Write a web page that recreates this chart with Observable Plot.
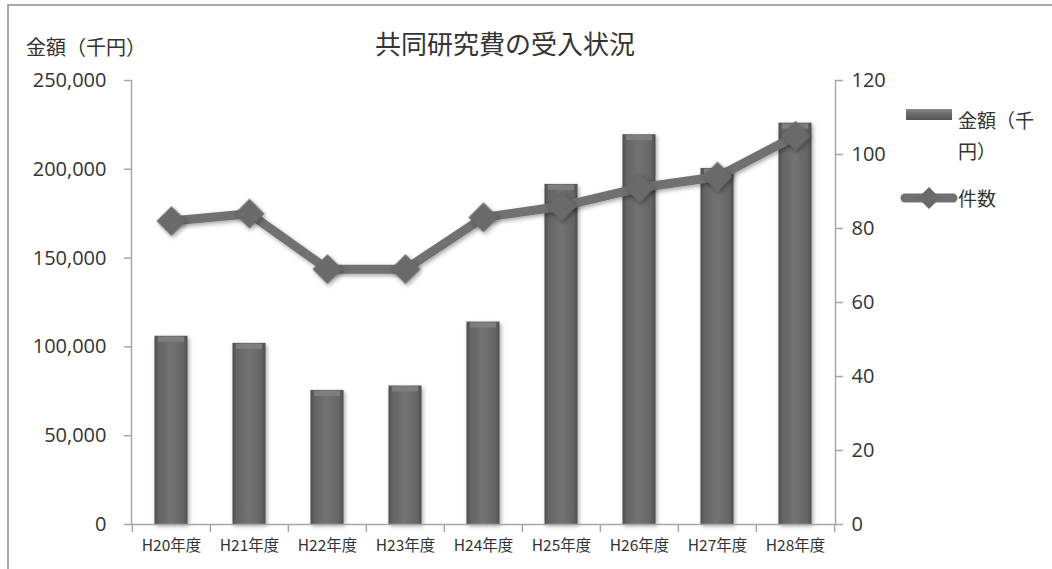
<!DOCTYPE html>
<html><head><meta charset="utf-8">
<script src="https://cdn.jsdelivr.net/npm/d3@7"></script>
<script src="https://cdn.jsdelivr.net/npm/@observablehq/plot@0.6"></script>
<style>
html,body{margin:0;padding:0;background:#fff;}
#wrap{position:relative;width:1052px;height:569px;overflow:hidden;font-family:"Noto Sans CJK JP","Noto Sans",sans-serif;color:#333;}
#border{position:absolute;left:7px;top:4px;width:1200px;height:700px;border-left:2px solid #a8a8a8;border-top:2px solid #a8a8a8;}
#chart{position:absolute;left:0;top:0;}
.t{position:absolute;white-space:nowrap;line-height:1;}
#title{left:0;width:1010px;text-align:center;top:30px;font-size:26px;}
#ylab{left:26px;top:37px;font-size:20px;}
#leg1{left:958px;top:104px;font-size:19px;white-space:normal;width:80px;line-height:31px;}
#leg2{left:958px;top:188px;font-size:19px;}
#sw1{position:absolute;left:906px;top:109px;}
#sw2{position:absolute;left:900px;top:186px;}
</style>
</head><body>
<div id="wrap">
  <div id="border"></div>
  <div id="chart"></div>
  <div class="t" id="title">共同研究費の受入状況</div>
  <div class="t" id="ylab">金額（千円）</div>
  <svg id="sw1" width="46" height="12"><defs><linearGradient id="lg1" x1="0" y1="0" x2="0" y2="1"><stop offset="0" stop-color="#8a8a8a"/><stop offset="0.4" stop-color="#6c6c6c"/><stop offset="1" stop-color="#555"/></linearGradient></defs><rect x="0" y="0" width="46" height="11" fill="url(#lg1)"/></svg>
  <div class="t" id="leg1">金額（千円）</div>
  <svg id="sw2" width="58" height="26"><line x1="5" y1="12" x2="53" y2="12" stroke="#707070" stroke-width="9" stroke-linecap="round"/><path d="M29 1 L40 12 L29 23 L18 12 Z" fill="#6a6a6a"/></svg>
  <div class="t" id="leg2">件数</div>
</div>
<script>
const categories = ["H20年度","H21年度","H22年度","H23年度","H24年度","H25年度","H26年度","H27年度","H28年度"];
const amounts = [106000, 102000, 75500, 78000, 114000, 191500, 219500, 200500, 226000];
const counts = [82, 84, 69, 69, 83, 86, 91, 94, 105];
const leftTicks = [0, 50000, 100000, 150000, 200000, 250000];
const rightTicks = [0, 20, 40, 60, 80, 100, 120];
const AMOUNT_MAX = 250000, COUNT_MAX = 120;
const k = AMOUNT_MAX / COUNT_MAX;

const data = categories.map((c, i) => ({c, v: amounts[i], n: counts[i]}));

const W = 1052, H = 569, mL = 131, mR = 217, mT = 80, mB = 45;
const bw = (W - mL - mR) / categories.length;
const axisColor = "#a6a6a6";

const plot = Plot.plot({
  width: W, height: H,
  marginLeft: mL, marginRight: mR, marginTop: mT, marginBottom: mB,
  x: {type: "band", domain: categories, padding: 0, axis: null, label: null},
  y: {domain: [0, AMOUNT_MAX], axis: null, label: null},
  style: {fontFamily: "'Open Sans', sans-serif", color: "#333", background: "transparent", overflow: "visible"},
  marks: [
    Plot.barY(data, {x: "c", y: "v", fill: "#6a6a6a", insetLeft: 22.5, insetRight: 22.5}),
    Plot.tickY(data, {x: "c", y: "v", stroke: "#7e7e7e", strokeWidth: 5, dy: 3, insetLeft: 26, insetRight: 26}),
    Plot.ruleY([0], {stroke: axisColor, strokeWidth: 1.5}),
    Plot.frame({anchor: "left", stroke: axisColor, strokeWidth: 1.5}),
    Plot.frame({anchor: "right", stroke: axisColor, strokeWidth: 1.5}),
    Plot.axisY({anchor: "left", label: null, ticks: leftTicks, tickFormat: d3.format(","), tickSize: 7, tickPadding: 18, fontSize: 20, fontFamily: "'Open Sans', sans-serif"}),
    Plot.axisY({anchor: "right", label: null, ticks: rightTicks.map(v => v * k), tickFormat: d => String(Math.round(d / k)), tickSize: 7, tickPadding: 9, fontSize: 20, fontFamily: "'Open Sans', sans-serif"}),
    Plot.axisX({label: null, ticks: categories, tickSize: 0, tickPadding: 15, fontSize: 15.5, fontFamily: "'Noto Sans CJK JP', sans-serif"}),
    Plot.axisX({label: null, ticks: categories, tickSize: 8, tickFormat: () => "", dx: -bw / 2}),
    Plot.axisX({label: null, ticks: [categories[categories.length - 1]], tickSize: 8, tickFormat: () => "", dx: bw / 2}),
    Plot.line(data, {x: "c", y: d => d.n * k, stroke: "#717171", strokeWidth: 9}),
    Plot.dot(data, {x: "c", y: d => d.n * k, symbol: "diamond2", r: 13.2, fill: "#6b6b6b", stroke: "#5e5e5e", strokeWidth: 0.6})
  ]
});
document.getElementById("chart").appendChild(plot);

const svg = d3.select(plot);
const defs = svg.insert("defs", ":first-child");
const g = defs.append("linearGradient").attr("id", "barGrad").attr("x1", 0).attr("x2", 1).attr("y1", 0).attr("y2", 0);
[[0, "#4c4c4c"], [0.12, "#646464"], [0.5, "#737373"], [0.88, "#646464"], [1, "#4c4c4c"]]
  .forEach(([o, c]) => g.append("stop").attr("offset", o).attr("stop-color", c));
const f = defs.append("filter").attr("id", "shadow").attr("x", "-30%").attr("y", "-30%").attr("width", "160%").attr("height", "160%");
f.append("feDropShadow").attr("dx", 1.5).attr("dy", 2).attr("stdDeviation", 2).attr("flood-color", "#000").attr("flood-opacity", 0.35);
svg.selectAll('g[aria-label="bar"] rect').attr("fill", "url(#barGrad)");
svg.selectAll('g[aria-label="bar"], g[aria-label="line"], g[aria-label="dot"]').attr("filter", "url(#shadow)");
svg.selectAll('g[aria-label="y-axis tick"], g[aria-label="x-axis tick"]').attr("stroke", axisColor).attr("stroke-width", 1.5);
</script>
</body></html>
